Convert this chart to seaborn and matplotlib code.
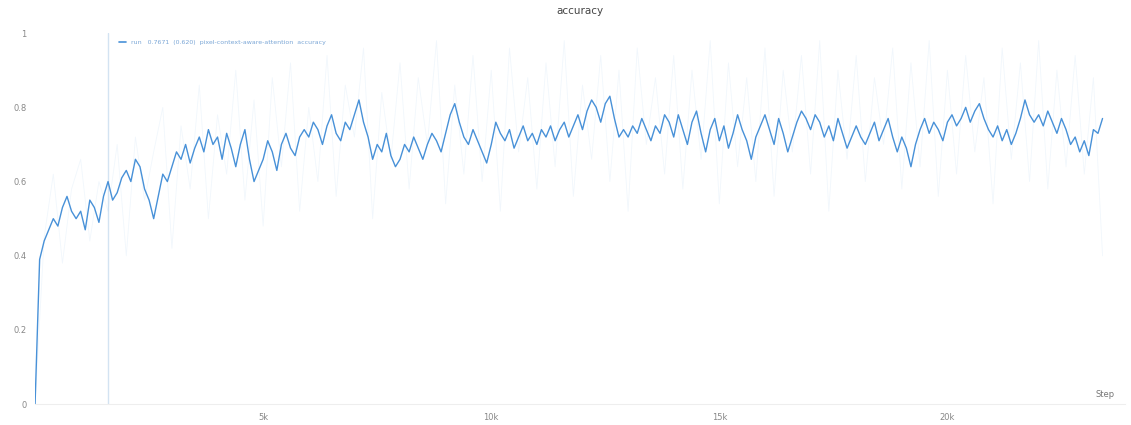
import numpy as np
import pandas as pd
import matplotlib
matplotlib.use("Agg")
import matplotlib.pyplot as plt
import seaborn as sns

# Smoothed accuracy, logged every 100 steps
log_every = 100
acc_smooth = [
    0.00, 0.39, 0.44, 0.47, 0.50, 0.48, 0.53, 0.56, 0.52, 0.50,
    0.52, 0.47, 0.55, 0.53, 0.49, 0.56, 0.60, 0.55, 0.57, 0.61,
    0.63, 0.60, 0.66, 0.64, 0.58, 0.55, 0.50, 0.56, 0.62, 0.60,
    0.64, 0.68, 0.66, 0.70, 0.65, 0.69, 0.72, 0.68, 0.74, 0.70,
    0.72, 0.66, 0.73, 0.69, 0.64, 0.70, 0.74, 0.66, 0.60, 0.63,
    0.66, 0.71, 0.68, 0.63, 0.70, 0.73, 0.69, 0.67, 0.72, 0.74,
    0.72, 0.76, 0.74, 0.70, 0.75, 0.78, 0.73, 0.71, 0.76, 0.74,
    0.78, 0.82, 0.76, 0.72, 0.66, 0.70, 0.68, 0.73, 0.67, 0.64,
    0.66, 0.70, 0.68, 0.72, 0.69, 0.66, 0.70, 0.73, 0.71, 0.68,
    0.73, 0.78, 0.81, 0.76, 0.72, 0.70, 0.74, 0.71, 0.68, 0.65,
    0.70, 0.76, 0.73, 0.71, 0.74, 0.69, 0.72, 0.75, 0.71, 0.73,
    0.70, 0.74, 0.72, 0.75, 0.71, 0.74, 0.76, 0.72, 0.75, 0.78,
    0.74, 0.79, 0.82, 0.80, 0.76, 0.81, 0.83, 0.77, 0.72, 0.74,
    0.72, 0.75, 0.73, 0.77, 0.74, 0.71, 0.75, 0.73, 0.78, 0.76,
    0.72, 0.78, 0.74, 0.70, 0.76, 0.79, 0.73, 0.68, 0.74, 0.77,
    0.71, 0.75, 0.69, 0.73, 0.78, 0.74, 0.71, 0.66, 0.72, 0.75,
    0.78, 0.74, 0.70, 0.77, 0.73, 0.68, 0.72, 0.76, 0.79, 0.77,
    0.74, 0.78, 0.76, 0.72, 0.75, 0.71, 0.77, 0.73, 0.69, 0.72,
    0.75, 0.72, 0.70, 0.73, 0.76, 0.71, 0.74, 0.77, 0.72, 0.68,
    0.72, 0.69, 0.64, 0.70, 0.74, 0.77, 0.73, 0.76, 0.74, 0.71,
    0.76, 0.78, 0.75, 0.77, 0.80, 0.76, 0.79, 0.81, 0.77, 0.74,
    0.72, 0.75, 0.71, 0.74, 0.70, 0.73, 0.77, 0.82, 0.78, 0.76,
    0.78, 0.75, 0.79, 0.76, 0.73, 0.77, 0.74, 0.70, 0.72, 0.68,
    0.71, 0.67, 0.74, 0.73, 0.77,
]

# Raw per-step accuracy (sparser, noisy)
raw_every = 200
acc_raw = [
    0.00, 0.45, 0.62, 0.38, 0.58, 0.66, 0.44, 0.60, 0.52, 0.70,
    0.40, 0.72, 0.55, 0.68, 0.80, 0.42, 0.75, 0.58, 0.86, 0.50,
    0.78, 0.62, 0.90, 0.55, 0.82, 0.48, 0.88, 0.64, 0.92, 0.52,
    0.80, 0.60, 0.94, 0.56, 0.86, 0.72, 0.96, 0.50, 0.84, 0.66,
    0.92, 0.58, 0.88, 0.70, 0.98, 0.54, 0.86, 0.62, 0.94, 0.60,
    0.90, 0.52, 0.96, 0.68, 0.88, 0.58, 0.92, 0.64, 0.98, 0.56,
    0.86, 0.66, 0.94, 0.60, 0.90, 0.52, 0.96, 0.70, 0.88, 0.62,
    0.94, 0.58, 0.90, 0.66, 0.98, 0.54, 0.92, 0.64, 0.88, 0.60,
    0.96, 0.56, 0.90, 0.68, 0.94, 0.62, 0.98, 0.52, 0.90, 0.66,
    0.94, 0.60, 0.88, 0.70, 0.96, 0.58, 0.92, 0.64, 0.98, 0.56,
    0.90, 0.62, 0.94, 0.68, 0.88, 0.54, 0.96, 0.66, 0.92, 0.60,
    0.98, 0.58, 0.90, 0.64, 0.94, 0.62, 0.88, 0.40,
]

x_ticks = [5000, 10000, 15000, 20000]
x_tick_labels = ["5k", "10k", "15k", "20k"]
y_ticks = [0, 0.2, 0.4, 0.6, 0.8, 1.0]
y_tick_labels = ["0", "0.2", "0.4", "0.6", "0.8", "1"]
marker_step = 1600

legend_text = "run   0.7671  (0.620)  pixel-context-aware-attention  accuracy"

smooth_df = pd.DataFrame({"step": np.arange(len(acc_smooth)) * log_every,
                          "accuracy": acc_smooth})
raw_df = pd.DataFrame({"step": np.arange(len(acc_raw)) * raw_every,
                       "accuracy": acc_raw})

sns.set_theme(style="white")
plt.rcParams["font.family"] = ["DejaVu Sans"]

fig = plt.figure(figsize=(11.31, 4.25), dpi=100)
ax = fig.add_axes([0.031, 0.049, 0.964, 0.873])

line_color = "#4891d8"
sns.lineplot(data=raw_df, x="step", y="accuracy", ax=ax, color="#a9cdee",
             linewidth=0.6, alpha=0.16, estimator=None)
sns.lineplot(data=smooth_df, x="step", y="accuracy", ax=ax, color=line_color,
             linewidth=1.0, estimator=None)

ax.axvline(marker_step, color="#d3e3f2", linewidth=1.0, zorder=0)

ax.set_xlim(0, 23900)
ax.set_ylim(0, 1.0)
ax.set_xticks(x_ticks)
ax.set_xticklabels(x_tick_labels)
ax.set_yticks(y_ticks)
ax.set_yticklabels(y_tick_labels)
ax.tick_params(axis="both", length=0, labelsize=6, colors="#888888", pad=6)
ax.set_xlabel("")
ax.set_ylabel("")

for side in ["top", "right", "left"]:
    ax.spines[side].set_visible(False)
ax.spines["bottom"].set_color("#eeeeee")
ax.spines["bottom"].set_linewidth(0.8)

ax.set_title("accuracy", fontsize=7.5, color="#444444", pad=14)
ax.text(0.99, 0.015, "Step", transform=ax.transAxes, fontsize=6,
        color="#777777", ha="right", va="bottom")

# Compact legend row at the top left
ax.plot([0.077, 0.083], [0.975, 0.975], transform=ax.transAxes,
        color=line_color, linewidth=1.2)
ax.text(0.088, 0.975, legend_text, transform=ax.transAxes, fontsize=4.5,
        color="#7aa6d6", ha="left", va="center")

fig.savefig("out.png", dpi=100, facecolor="white")
